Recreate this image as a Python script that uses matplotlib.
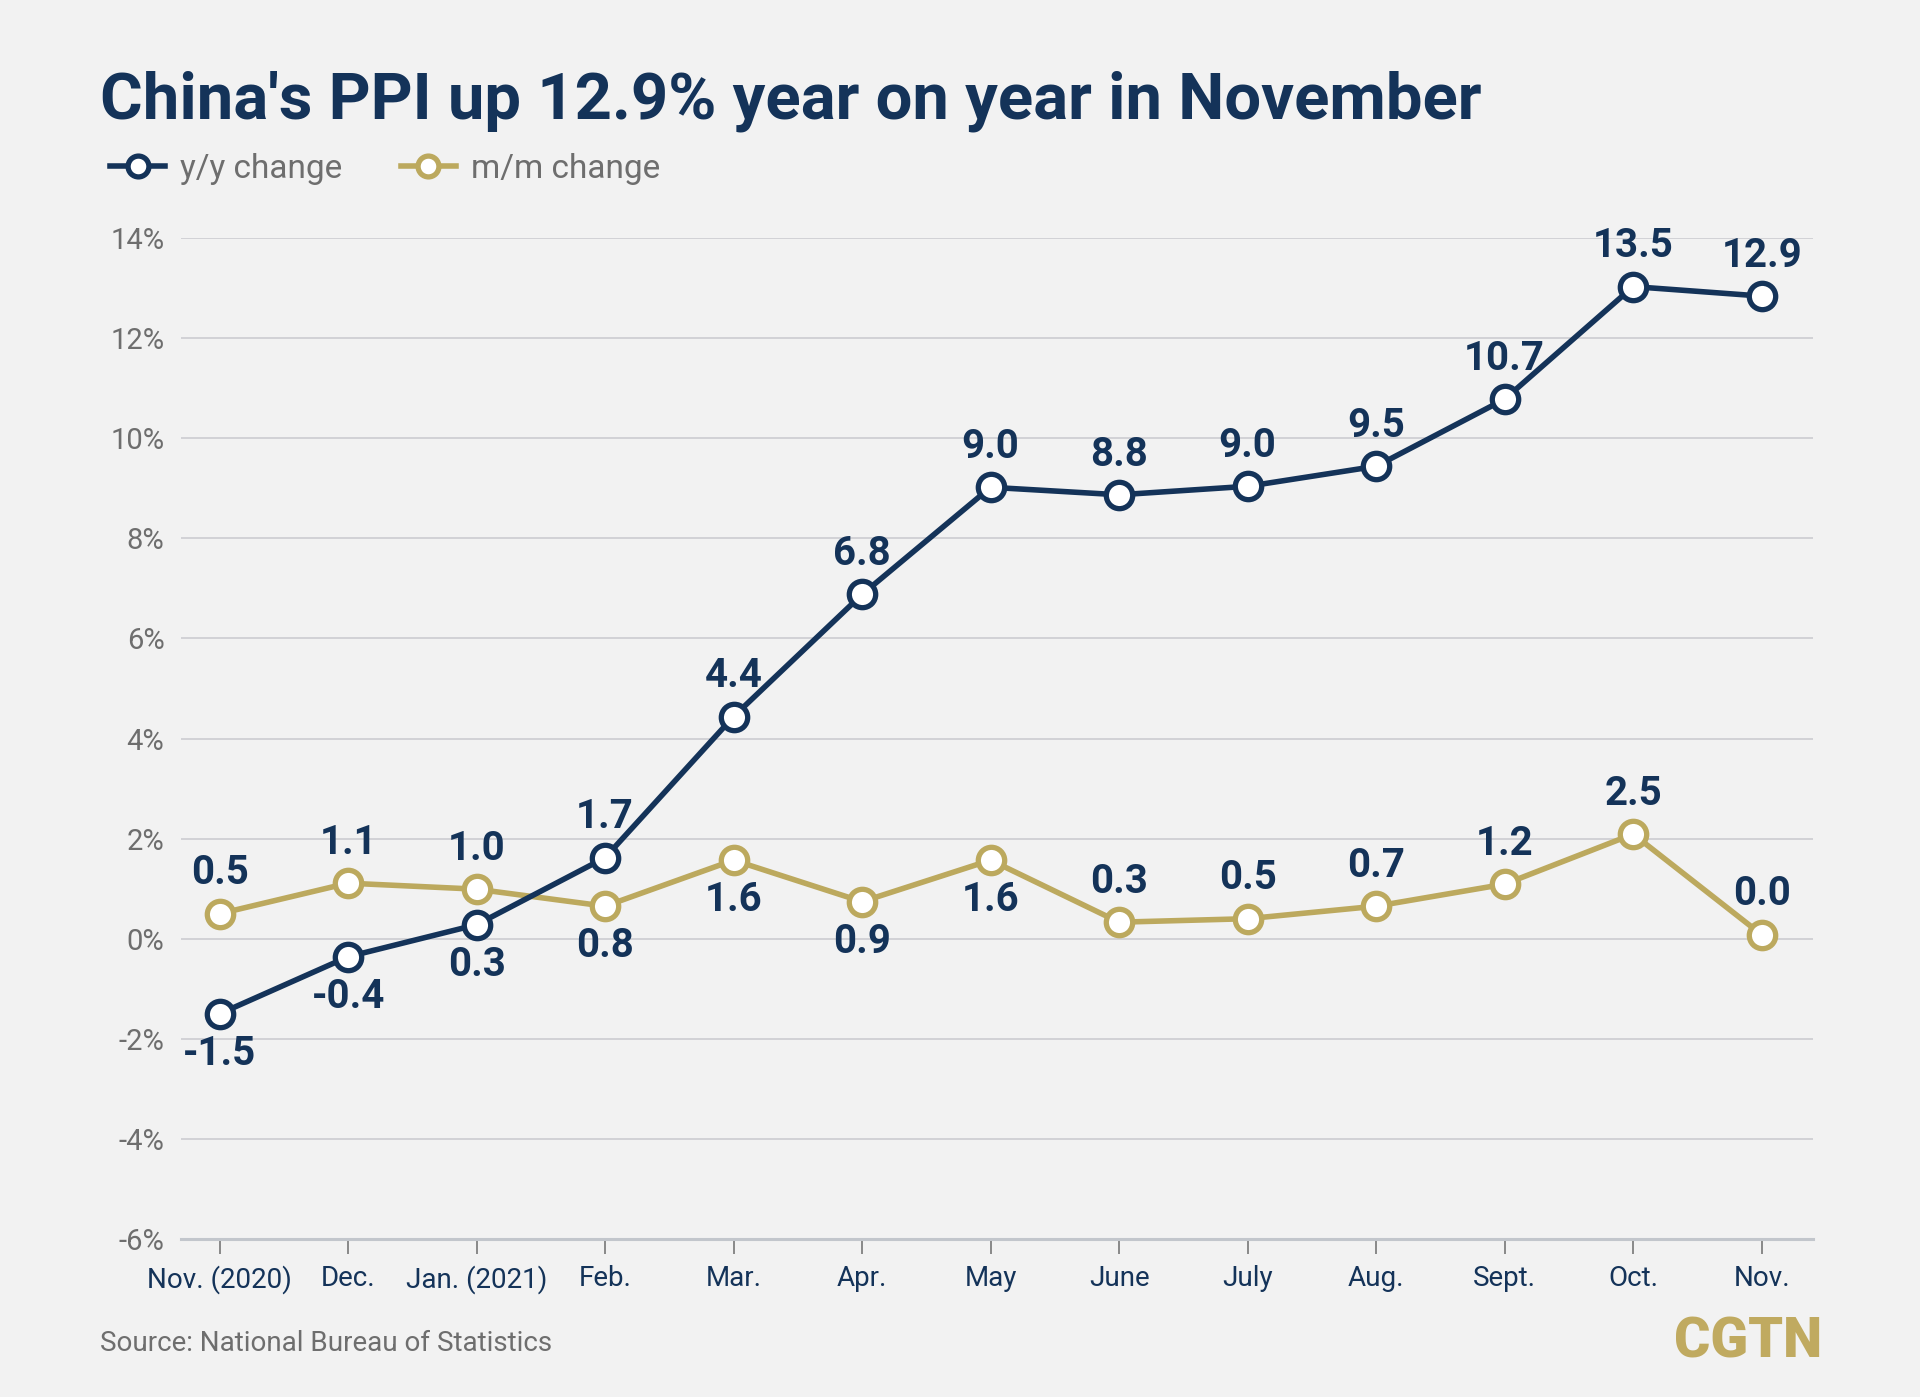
import matplotlib
matplotlib.use("Agg")
import matplotlib.pyplot as plt
from matplotlib.lines import Line2D

NAVY = "#143359"
GOLD = "#bca95e"
GREY_TXT = "#6e6e6e"
BG = "#f2f2f2"

MONTHS = ["Nov. (2020)", "Dec.", "Jan. (2021)", "Feb.", "Mar.", "Apr.", "May",
          "June", "July", "Aug.", "Sept.", "Oct.", "Nov."]

# plotted positions
YOY = [-1.5, -0.36, 0.28, 1.62, 4.44, 6.88, 9.02, 8.87, 9.04, 9.44, 10.78, 13.03, 12.84]
MOM = [0.50, 1.11, 0.99, 0.65, 1.57, 0.74, 1.57, 0.33, 0.40, 0.65, 1.09, 2.09, 0.08]

# printed data labels
YOY_LABELS = ["-1.5", "-0.4", "0.3", "1.7", "4.4", "6.8", "9.0", "8.8", "9.0", "9.5", "10.7", "13.5", "12.9"]
MOM_LABELS = ["0.5", "1.1", "1.0", "0.8", "1.6", "0.9", "1.6", "0.3", "0.5", "0.7", "1.2", "2.5", "0.0"]

# +1 label above the point, -1 below
YOY_SIDE = [-1, -1, -1, 1, 1, 1, 1, 1, 1, 1, 1, 1, 1]
MOM_SIDE = [1, 1, 1, -1, -1, -1, -1, 1, 1, 1, 1, 1, 1]

Y_TICKS = [-6, -4, -2, 0, 2, 4, 6, 8, 10, 12, 14]

plt.rcParams["font.family"] = ["Roboto", "DejaVu Sans"]


def draw_series(ax, vals, labels, sides, color):
    x = list(range(len(vals)))
    ax.plot(x, vals, color=color, lw=4, marker="o", ms=19, mew=3.8,
            mfc="white", mec=color, zorder=3, clip_on=False)
    for xi, v, lab, s in zip(x, vals, labels, sides):
        ax.annotate(lab, (xi, v), xytext=(0, 29 * s), textcoords="offset points",
                    ha="center", va="center", fontsize=29, fontweight="bold",
                    color=NAVY, zorder=4)


def main():
    fig = plt.figure(figsize=(19.2, 13.97), dpi=100, facecolor=BG)
    ax = fig.add_axes([0.0943, 0.1131, 0.8500, 0.7165], facecolor=BG)

    ax.set_xlim(-0.30, 12.40)
    ax.set_ylim(-6, 14)

    ax.set_yticks(Y_TICKS)
    ax.set_yticklabels([f"{t}%" for t in Y_TICKS])
    ax.set_xticks(range(len(MONTHS)))
    ax.set_xticklabels(MONTHS)

    ax.tick_params(axis="y", length=0, pad=12, labelsize=21, labelcolor=GREY_TXT)
    ax.tick_params(axis="x", length=11, width=1.2, color="#777777", pad=8,
                   labelsize=20, labelcolor=NAVY)

    for t in Y_TICKS[1:]:
        ax.axhline(t, color="#c9c9ce", lw=1.1, zorder=1)

    for side in ["top", "right", "left"]:
        ax.spines[side].set_visible(False)
    ax.spines["bottom"].set_color("#c2c6cc")
    ax.spines["bottom"].set_linewidth(2.2)

    draw_series(ax, MOM, MOM_LABELS, MOM_SIDE, GOLD)
    draw_series(ax, YOY, YOY_LABELS, YOY_SIDE, NAVY)

    fig.text(0.052, 0.915, "China's PPI up 12.9% year on year in November",
             fontsize=47, fontweight="bold", color=NAVY, ha="left", va="baseline")

    handles = [
        Line2D([], [], color=NAVY, lw=4, marker="o", ms=15, mew=3.8, mfc="white", mec=NAVY),
        Line2D([], [], color=GOLD, lw=4, marker="o", ms=15, mew=3.8, mfc="white", mec=GOLD),
    ]
    fig.legend(handles, ["y/y change", "m/m change"], loc="center left",
               bbox_to_anchor=(0.0573, 0.879), ncol=2, frameon=False,
               fontsize=24, labelcolor=GREY_TXT, handlelength=1.65,
               handletextpad=0.45, columnspacing=1.75, borderpad=0, borderaxespad=0)

    fig.text(0.052, 0.0385, "Source: National Bureau of Statistics",
             fontsize=20, color=GREY_TXT, ha="left", va="center")
    fig.text(0.949, 0.0394, "CGTN", fontsize=40, fontweight="black",
             color="#c0aa60", ha="right", va="center")

    fig.savefig("out.png", dpi=100, facecolor=BG)


if __name__ == "__main__":
    main()
